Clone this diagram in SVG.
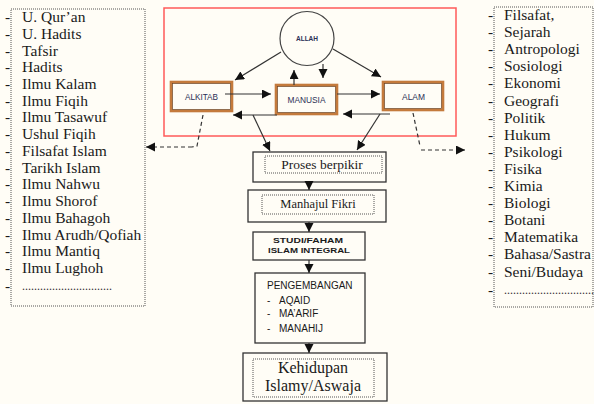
<svg xmlns="http://www.w3.org/2000/svg" width="594" height="404" viewBox="0 0 594 404">
<style>
.list{font-family:"Liberation Serif",serif;font-size:15.5px;fill:#1a1a1a}
.dots{font-family:"Liberation Serif",serif;font-size:12px;fill:#333}
.dotbox{fill:none;stroke:#555;stroke-width:1;stroke-dasharray:1,1}
.box{fill:#fffdf6;stroke:#333;stroke-width:1.3}
.obox{fill:#fffdf6;stroke:#c47a3c;stroke-width:2.6}
.oin{fill:none;stroke:#6a4020;stroke-width:0.7}
.lab{font-family:"Liberation Sans",sans-serif;font-size:9.5px;fill:#2a2f55;text-anchor:middle}
.ser{font-family:"Liberation Serif",serif;fill:#1a1a1a;text-anchor:middle}
.san{font-family:"Liberation Sans",sans-serif;fill:#1a1a1a}
.ln{stroke:#333;stroke-width:1.2;fill:none}
.dash{stroke:#333;stroke-width:1.2;fill:none;stroke-dasharray:4,3}
</style>
<defs>
<marker id="ah" markerUnits="userSpaceOnUse" markerWidth="10" markerHeight="10" refX="9" refY="4.5" orient="auto">
<path d="M0,0 L9,4.5 L0,9 z" fill="#111"/>
</marker>
</defs>
<rect width="594" height="404" fill="#fffdf6"/>

<g id="left-list">
<rect class="dotbox" x="11" y="9" width="134" height="297"/>
<g class="list">
<text x="5" y="22">-</text><text x="22" y="22">U. Qur’an</text>
<text x="5" y="38.7">-</text><text x="22" y="38.7">U. Hadits</text>
<text x="5" y="55.5">-</text><text x="22" y="55.5">Tafsir</text>
<text x="5" y="72.2">-</text><text x="22" y="72.2">Hadits</text>
<text x="5" y="88.9">-</text><text x="22" y="88.9">Ilmu Kalam</text>
<text x="5" y="105.7">-</text><text x="22" y="105.7">Ilmu Fiqih</text>
<text x="5" y="122.4">-</text><text x="22" y="122.4">Ilmu Tasawuf</text>
<text x="5" y="139.1">-</text><text x="22" y="139.1">Ushul Fiqih</text>
<text x="5" y="155.8">-</text><text x="22" y="155.8">Filsafat Islam</text>
<text x="5" y="172.6">-</text><text x="22" y="172.6">Tarikh Islam</text>
<text x="5" y="189.3">-</text><text x="22" y="189.3">Ilmu Nahwu</text>
<text x="5" y="206">-</text><text x="22" y="206">Ilmu Shorof</text>
<text x="5" y="222.8">-</text><text x="22" y="222.8">Ilmu Bahagoh</text>
<text x="5" y="239.5">-</text><text x="22" y="239.5">Ilmu Arudh/Qofiah</text>
<text x="5" y="256.2">-</text><text x="22" y="256.2">Ilmu Mantiq</text>
<text x="5" y="273">-</text><text x="22" y="273">Ilmu Lughoh</text>
<text x="5" y="291">-</text>
</g>
<text class="dots" x="22" y="290">..............................</text>
</g>

<g id="right-list">
<rect class="dotbox" x="494" y="7" width="99" height="300"/>
<g class="list">
<text x="488" y="20">-</text><text x="504" y="20">Filsafat,</text>
<text x="488" y="37.1">-</text><text x="504" y="37.1">Sejarah</text>
<text x="488" y="54.2">-</text><text x="504" y="54.2">Antropologi</text>
<text x="488" y="71.3">-</text><text x="504" y="71.3">Sosiologi</text>
<text x="488" y="88.4">-</text><text x="504" y="88.4">Ekonomi</text>
<text x="488" y="105.5">-</text><text x="504" y="105.5">Geografi</text>
<text x="488" y="122.6">-</text><text x="504" y="122.6">Politik</text>
<text x="488" y="139.7">-</text><text x="504" y="139.7">Hukum</text>
<text x="488" y="156.8">-</text><text x="504" y="156.8">Psikologi</text>
<text x="488" y="173.9">-</text><text x="504" y="173.9">Fisika</text>
<text x="488" y="191">-</text><text x="504" y="191">Kimia</text>
<text x="488" y="208.1">-</text><text x="504" y="208.1">Biologi</text>
<text x="488" y="225.2">-</text><text x="504" y="225.2">Botani</text>
<text x="488" y="242.3">-</text><text x="504" y="242.3">Matematika</text>
<text x="488" y="259.4">-</text><text x="504" y="259.4">Bahasa/Sastra</text>
<text x="488" y="276.5">-</text><text x="504" y="276.5">Seni/Budaya</text>
<text x="488" y="295">-</text>
</g>
<text class="dots" x="504" y="294">..............................</text>
</g>

<g id="frame">
<rect x="164" y="8" width="292" height="128" fill="none" stroke="#ff5a5a" stroke-width="1.5"/>
</g>

<g id="allah">
<circle cx="307" cy="38.5" r="27" fill="#fffdf6" stroke="#444" stroke-width="1.2"/>
<text x="307" y="41" font-family="Liberation Sans,sans-serif" font-size="6.5" font-weight="bold" fill="#2a2f55" text-anchor="middle">ALLAH</text>
</g>

<g id="alkitab">
<rect class="obox" x="171" y="82" width="61" height="29"/>
<rect class="oin" x="172.5" y="83.5" width="58" height="26"/>
<text class="lab" x="201.5" y="99.5" textLength="33" lengthAdjust="spacingAndGlyphs">ALKITAB</text>
</g>

<g id="manusia">
<rect class="obox" x="276" y="85" width="61" height="29"/>
<rect class="oin" x="277.5" y="86.5" width="58" height="26"/>
<text class="lab" x="306.5" y="102.5" textLength="38" lengthAdjust="spacingAndGlyphs">MANUSIA</text>
</g>

<g id="alam">
<rect class="obox" x="383" y="82" width="60" height="28"/>
<rect class="oin" x="384.5" y="83.5" width="57" height="25"/>
<text class="lab" x="413.5" y="99.5" textLength="23" lengthAdjust="spacingAndGlyphs">ALAM</text>
</g>

<g id="proses">
<rect class="box" x="253" y="152" width="133" height="30"/>
<rect class="dotbox" x="265" y="156" width="117" height="17"/>
<text class="ser" x="322" y="168.5" font-size="13.5">Proses berpikir</text>
</g>

<g id="manhajul">
<rect class="box" x="248" y="190" width="138" height="32"/>
<rect class="dotbox" x="262" y="195" width="112" height="19"/>
<text class="ser" x="318" y="207.5" font-size="12.5">Manhajul Fikri</text>
</g>

<g id="studi">
<rect class="box" x="253" y="232" width="112" height="28"/>
<text class="san" x="308" y="243" font-size="7.5" font-weight="bold" fill="#333" text-anchor="middle" textLength="70" lengthAdjust="spacingAndGlyphs">STUDI/FAHAM</text>
<text class="san" x="309" y="252.5" font-size="7.5" font-weight="bold" fill="#333" text-anchor="middle" textLength="82" lengthAdjust="spacingAndGlyphs">ISLAM INTEGRAL</text>
</g>

<g id="pengembangan">
<rect class="box" x="255" y="273" width="110" height="70"/>
<g class="san" font-size="10">
<text x="267" y="288.5">PENGEMBANGAN</text>
<text x="267" y="303.5">-</text><text x="279" y="303.5">AQAID</text>
<text x="267" y="317">-</text><text x="279" y="317">MA’ARIF</text>
<text x="267" y="331.5">-</text><text x="279" y="331.5">MANAHIJ</text>
</g>
</g>

<g id="kehidupan">
<rect class="box" x="243" y="353" width="144" height="48"/>
<rect class="dotbox" x="253" y="359" width="121" height="38"/>
<text class="ser" x="313" y="372.5" font-size="16">Kehidupan</text>
<text class="ser" x="313" y="391" font-size="16">Islamy/Aswaja</text>
</g>

<g id="connectors">
<line class="ln" x1="281" y1="52" x2="235" y2="80" marker-end="url(#ah)"/>
<line class="ln" x1="333" y1="49" x2="381" y2="77" marker-end="url(#ah)"/>
<line class="ln" x1="323" y1="64" x2="323" y2="78" marker-end="url(#ah)"/>
<line class="ln" x1="294" y1="85" x2="294" y2="70" marker-end="url(#ah)"/>
<line class="ln" x1="225" y1="94" x2="271" y2="94" marker-end="url(#ah)"/>
<line class="ln" x1="337" y1="94" x2="380" y2="94" marker-end="url(#ah)"/>
<line class="ln" x1="277" y1="115" x2="233" y2="115" marker-end="url(#ah)"/>
<line class="ln" x1="390" y1="114" x2="343" y2="114" marker-end="url(#ah)"/>
<line class="ln" x1="253" y1="115" x2="270" y2="151" marker-end="url(#ah)"/>
<line class="ln" x1="380" y1="114" x2="357" y2="150" marker-end="url(#ah)"/>
<polyline class="dash" points="203,115 197,146 192,147"/>
<line class="dash" x1="192" y1="147" x2="146" y2="147" marker-end="url(#ah)"/>
<polyline class="dash" points="413,113 420,146"/>
<line class="dash" x1="421" y1="150" x2="465" y2="150" marker-end="url(#ah)"/>
<line class="ln" x1="309" y1="182" x2="309" y2="190" marker-end="url(#ah)"/>
<line class="ln" x1="309" y1="222" x2="309" y2="232" marker-end="url(#ah)"/>
<line class="ln" x1="309" y1="260" x2="309" y2="273" marker-end="url(#ah)"/>
<line class="ln" x1="309" y1="343" x2="309" y2="353" marker-end="url(#ah)"/>
</g>
</svg>
